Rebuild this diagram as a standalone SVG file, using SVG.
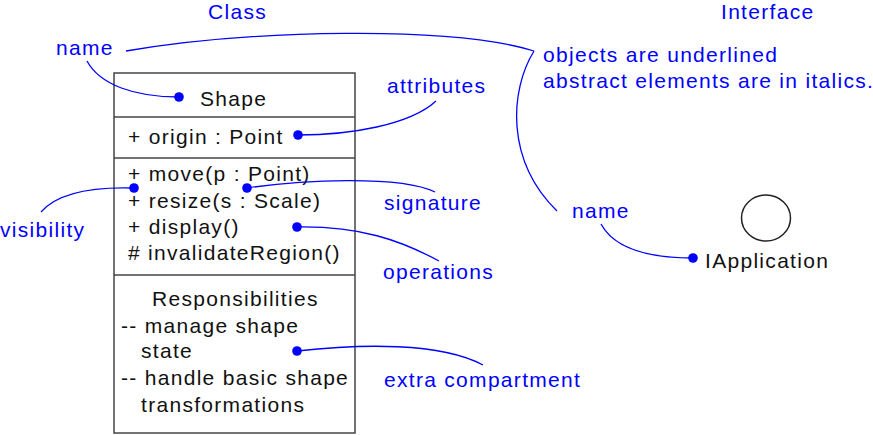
<svg xmlns="http://www.w3.org/2000/svg" width="873" height="435" viewBox="0 0 873 435">
<style>
text{font-family:"Liberation Sans",Arial,sans-serif;font-size:21px;letter-spacing:1.3px}
.k{fill:#111}
.b{fill:#0000ff}
.box{fill:#fff;stroke:#444;stroke-width:1.5}
.c{fill:none;stroke:#0000ff;stroke-width:1.3}
.d{fill:#0000ff}
</style>
<rect width="873" height="435" fill="#fff"/>
<g id="labels">
<text class="b" x="208" y="19">Class</text>
<text class="b" x="721" y="19">Interface</text>
<text class="b" x="56" y="55">name</text>
<text class="b" x="387" y="93">attributes</text>
<text class="b" x="0" y="237">visibility</text>
<text class="b" x="384" y="210">signature</text>
<text class="b" x="383" y="279">operations</text>
<text class="b" x="384" y="387">extra compartment</text>
<text class="b" x="543" y="62">objects are underlined</text>
<text class="b" x="543" y="88">abstract elements are in italics.</text>
<text class="b" x="572" y="218">name</text>
</g>
<g id="class-shape">
<rect class="box" x="114" y="73" width="241" height="360"/>
<line class="box" x1="114" y1="117" x2="355" y2="117"/>
<line class="box" x1="114" y1="158" x2="355" y2="158"/>
<line class="box" x1="114" y1="275" x2="355" y2="275"/>
<text class="k" x="200" y="106">Shape</text>
<text class="k" x="128" y="144">+ origin : Point</text>
<text class="k" x="128" y="181">+ move(p : Point)</text>
<text class="k" x="128" y="208">+ resize(s : Scale)</text>
<text class="k" x="128" y="234">+ display()</text>
<text class="k" x="128" y="260"># invalidateRegion()</text>
<text class="k" x="152" y="306">Responsibilities</text>
<text class="k" x="121" y="333">-- manage shape</text>
<text class="k" x="141" y="358">state</text>
<text class="k" x="121" y="385">-- handle basic shape</text>
<text class="k" x="141" y="412">transformations</text>
</g>
<g id="interface-iapplication">
<ellipse cx="766" cy="218" rx="24.5" ry="23" fill="#fff" stroke="#222" stroke-width="1.5"/>
<text class="k" x="705" y="268">IApplication</text>
</g>
<g id="connectors">
<path class="c" d="M87,61 C100,85 135,97 179,97"/>
<path class="c" d="M126,51 C250,30 450,25 534,51"/>
<path class="c" d="M534,51 C510,90 505,160 557,211"/>
<path class="c" d="M436,101 C410,125 350,135 298,135"/>
<path class="c" d="M247,188 C300,180 400,175 435,192"/>
<path class="c" d="M41,212 C60,190 100,187 134,188"/>
<path class="c" d="M297,227 C360,226 400,240 439,261"/>
<path class="c" d="M297,351 C360,344 440,342 483,365"/>
<path class="c" d="M601,224 C615,250 650,258 693,258"/>
<circle class="d" cx="179" cy="97" r="4.8"/>
<circle class="d" cx="298" cy="135" r="4.8"/>
<circle class="d" cx="134" cy="188" r="4.8"/>
<circle class="d" cx="247" cy="188" r="4.8"/>
<circle class="d" cx="297" cy="227" r="4.8"/>
<circle class="d" cx="297" cy="351" r="4.8"/>
<circle class="d" cx="693" cy="258" r="4.8"/>
</g>
</svg>
